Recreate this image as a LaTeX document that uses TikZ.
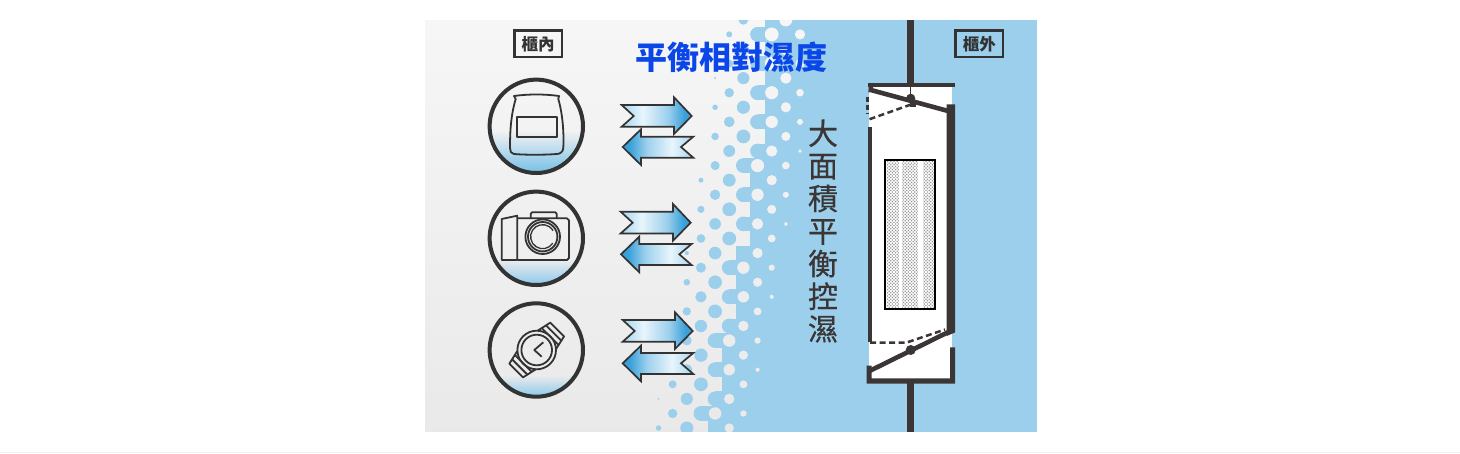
\documentclass[tikz,border=0pt]{standalone}
\usepackage{fontspec}
\newfontfamily\cjk{Noto Sans CJK TC}
\newfontfamily\cjkm[FakeBold=0.5]{Noto Sans CJK TC}
\usetikzlibrary{calc}
\definecolor{dark}{HTML}{3B3635}
\definecolor{icon}{HTML}{333333}
\definecolor{skyb}{HTML}{9BCFEC}
\definecolor{titleb}{HTML}{0A46E8}
\definecolor{gradA}{HTML}{A5D5EF}
\definecolor{gradB}{HTML}{E8F5FC}
\definecolor{gradC}{HTML}{9CD0ED}
\definecolor{gradD}{HTML}{39A0D9}
\pgfdeclarehorizontalshading{arrowgrad}{100bp}{color(0bp)=(gradA);color(25bp)=(gradA);color(40bp)=(gradB);color(58bp)=(gradC);color(70bp)=(gradD);color(100bp)=(gradD)}
\tikzset{
  x=1pt,y=-1pt,
  iconline/.style={draw=icon,line width=1.8pt,line join=round},
  ringline/.style={draw=icon,line width=4pt},
  tagbox/.style={draw=icon,line width=2.6pt,inner sep=0pt,minimum width=47.5pt,minimum height=26.5pt,font=\cjk\bfseries\fontsize{16.5}{16.5}\selectfont,text=icon},
  arrowline/.style={draw=icon,line width=1.7pt,line join=miter,shading=arrowgrad},
  wall/.style={fill=dark},
  flapdash/.style={draw=dark,line width=2.5pt,dash pattern=on 6pt off 3.5pt},
}
% right-pointing and left-pointing arrows, placed by their tips
\newcommand{\arrowright}[2]{\path[arrowline,shift={(#1,#2)}] (-70,-11) -- (-58,0) -- (-70,10.7) -- (-17.7,10.7) -- (-17.7,18) -- (0,0) -- (-17.7,-18.7) -- (-17.7,-11) -- cycle;}
\newcommand{\arrowleft}[2]{\path[arrowline,shading angle=180,shift={(#1,#2)}] (70.6,-10.3) -- (58.3,0) -- (70.6,10.7) -- (18.3,10.7) -- (18.3,18) -- (0,0) -- (18.3,-17.7) -- (18.3,-10.3) -- cycle;}
\begin{document}
\begin{tikzpicture}
\useasboundingbox (0,0) rectangle (1460,453);
\fill[white] (0,0) rectangle (1460,453);
\fill[black!5] (0,452) rectangle (1460,453);
\begin{scope}
\clip (425,20) rectangle (1037,432);
\shade[top color=black!3.5,bottom color=black!8.5] (425,20) rectangle (1037,432);
\fill[skyb] (806.9,20) rectangle (1037,432);
\foreach \i in {0,...,13}{
 \foreach \k in {-1,...,28}{
  \pgfmathsetmacro\cx{800-14.15*\i}
  \pgfmathsetmacro\cy{19.8+14.58*\k}
  \pgfmathtruncatemacro\bb{max(3,2+floor((\cy-2)/81.5))}
  \pgfmathtruncatemacro\odd{mod(\i+\k+100,2)}
  \pgfmathsetmacro\dz{max(0,\cx-(715-0.176*(\cy-73)))}
  \pgfmathsetmacro\rz{min(6.9,1.12*sqrt(\dz))}
  \pgfmathsetmacro\de{max(0,(800+0.19*(170-\cy))-\cx)}
  \pgfmathsetmacro\re{min(6.9,sqrt(\de))}
  \pgfmathsetmacro\gv{3.5+5*(\cy-20)/412}
  \ifnum\odd=0
    \ifnum\i<\bb
      \fill[skyb] (\cx-7.2,\cy-7.4) rectangle (\cx+7.2,\cy+7.4);
    \else\ifnum\i=\bb
      \fill[skyb] (\cx,\cy-7.4) rectangle (\cx+7.2,\cy+7.4);
      \fill[skyb] (\cx,\cy) circle[radius=7.4pt];
    \else
      \ifdim\dz pt>0.4pt \fill[skyb] (\cx,\cy) circle[radius=\rz pt];\fi
    \fi\fi
  \else
    \ifnum\i<\bb
      \fill[skyb] (\cx-7.2,\cy-7.4) rectangle (\cx+7.2,\cy+7.4);
      \ifdim\de pt>0.8pt \fill[black!\gv] (\cx,\cy) circle[radius=\re pt];\fi
    \fi
  \fi
 }
}
\end{scope}
\fill[white] (420,432) rectangle (1040,436);
% circles with the blue rising at the bottom
\foreach \cy/\ys/\cb/\gr in {126.3/131/72BEE6/5,238.3/259/86C6EA/6.5,350/375/86C6EA/7.5}{
  \definecolor{tmpb}{HTML}{\cb}
  \begin{scope}
    \clip (536.3,\cy) circle[radius=47pt];
    \shade[top color=black!\gr,bottom color=tmpb] (485,\ys) rectangle (590,\cy+48);
  \end{scope}
  \draw[ringline] (536.3,\cy) circle[radius=46.7pt];
}
% bag
\draw[iconline] (514,96) .. controls (528,94) and (545,94) .. (559,96) -- (558.3,99) .. controls (563,115) and (564,135) .. (563.3,148) .. controls (563,152) and (560,154) .. (556.7,154) .. controls (545,155) and (525,155) .. (514,154) .. controls (511,154) and (510,151) .. (510,148) .. controls (510,130) and (511,115) .. (515.7,99) -- cycle;
\draw[iconline] (517.3,116.7) rectangle (557.3,136.7);
% camera
\draw[iconline] (501.7,219) -- (517.3,215.7) -- (517.3,260) -- (501.7,260) -- cycle;
\draw[iconline] (517.3,218.3) -- (567,218.3) -- (569,220.3) -- (569,258) -- (567,260) -- (517.3,260);
\draw[iconline] (530.7,218.3) -- (530.7,214) -- (532,212.3) -- (555.5,212.3) -- (556.7,214) -- (556.7,218.3);
\draw[iconline] (542.7,236.7) circle[radius=17.3pt];
\draw[iconline] (542.7,236.7) circle[radius=14.7pt];
\draw[iconline,line width=1.3pt,shift={(542.7,236.7)}] (10,6.5) arc[start angle=-33,end angle=-330,radius=12pt];
% watch
\begin{scope}[shift={(536.7,350)},rotate=45]
  \draw[iconline] (0,0) circle[radius=19.3pt];
  \draw[iconline] (0,0) circle[radius=15.3pt];
  \draw[iconline] (14.3,-13) -- (29,-9.7) -- (29,9.7) -- (14.3,13);
  \draw[iconline] (-14.3,-13) -- (-29,-9.7) -- (-29,9.7) -- (-14.3,13);
  \draw[iconline] (19,-12) -- (19,12) (24,-11) -- (24,11);
  \draw[iconline] (-19,-12) -- (-19,12) (-24,-11) -- (-24,11);
\end{scope}
\draw[iconline] (543.3,342.3) -- (534.3,350) -- (541.7,356.7);
% arrows
\arrowright{691.7}{116}
\arrowleft{622.7}{147}
\arrowright{690.7}{222.7}
\arrowleft{621}{254.3}
\arrowright{692.7}{331}
\arrowleft{622.7}{363.3}
% damper unit
\fill[white] (868.7,85) rectangle (951.7,381);
\fill[wall] (906.8,20) rectangle (914,86);
\fill[wall] (906.8,383) rectangle (914,432);
\fill[wall] (868.3,83) rectangle (955,87);
\fill[wall] (946.7,104.3) -- (955,104.3) -- (955,332.5) -- (946.7,336) -- cycle;
\fill[wall] (867.7,126.7) rectangle (872,341.5);
\fill[wall] (866.7,365.7) -- (871.7,365.7) -- (871.7,378.3) -- (950,378.3) -- (950,347.3) -- (955,347.3) -- (955,383.7) -- (866.7,383.7) -- cycle;
\fill[wall] (868.5,87) -- (873,87) -- (873,91) -- (868.5,92.5) -- cycle;
% upper flap
\draw[dark,line width=4.6pt] (869,89.5) -- (950,111.5);
\draw[dark,line width=1.6pt] (910.5,86) -- (910.5,96);
\fill[dark] (910.7,98.3) circle[radius=4.6pt];
\fill[dark] (910,100) rectangle (916,107);
\draw[flapdash] (911,104.5) -- (869.3,119.3);
\draw[dark,line width=2.5pt,dash pattern=on 5pt off 3pt] (867.7,96.7) -- (867.7,113);
% lower flap
\draw[dark,line width=4.6pt] (869.5,371) -- (953.5,329.5);
\fill[dark] (910.7,350) circle[radius=5pt];
\draw[flapdash] (870,342.5) -- (906.7,342.5) -- (945,329.5);
% filter
\fill[white] (884.3,158.7) rectangle (936,309.7);
\begin{scope}
  \clip (886.5,160.5) rectangle (934,308);
  \foreach \j in {0,...,94}{
    \pgfmathsetmacro\yy{160+1.6*\j}
    \pgfmathtruncatemacro\oo{mod(\j,2)}
    \foreach \m in {0,...,15}{
      \pgfmathsetmacro\xx{886+3.2*\m+1.6*\oo}
      \fill[black!42] (\xx,\yy) circle[radius=0.82pt];
    }
  }
  \fill[white] (899.3,159) rectangle (902,310);
  \fill[white] (918.3,159) rectangle (922.5,310);
\end{scope}
\draw[black,line width=2pt] (885.3,159.7) rectangle (935,308.7);
% texts
\node[tagbox] (inside) at (538.2,43.8) {櫃內};
\node[tagbox] (outside) at (979.3,43.8) {櫃外};
\node[font=\cjk\bfseries\fontsize{32}{32}\selectfont,text=titleb,inner sep=0pt] (title) at (731,57) {平衡相對濕度};
\node[font=\cjkm\fontsize{30}{32.6}\selectfont,text=dark,inner sep=0pt,align=center] (side) at (823,231) {大\\面\\積\\平\\衡\\控\\濕};
\end{tikzpicture}
\end{document}
